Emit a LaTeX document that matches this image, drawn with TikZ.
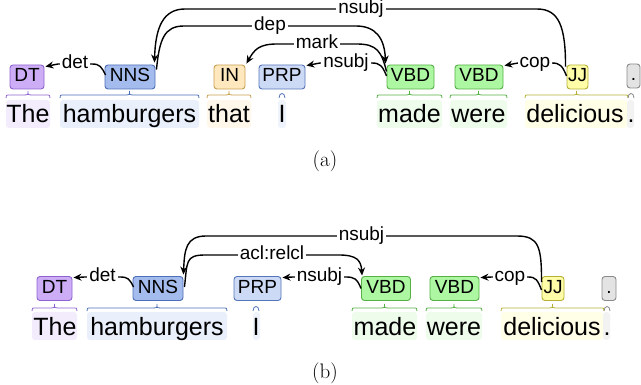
\documentclass[tikz,border=0pt]{standalone}
\usepackage{fontspec}
\usetikzlibrary{arrows.meta}
\newfontfamily\diagfont{Liberation Sans}
\newcommand\wordfont{\diagfont\fontsize{25}{28}\selectfont}
\newcommand\tagfont{\diagfont\fontsize{19}{21}\selectfont}
\newcommand\labfont{\diagfont\fontsize{19}{21}\selectfont}
\definecolor{dtfill}{HTML}{CCADF6}\definecolor{dtline}{HTML}{8E63CF}\definecolor{dtbg}{HTML}{F2ECFD}
\definecolor{nnsfill}{HTML}{A4BCED}\definecolor{nnsline}{HTML}{4D6FB8}\definecolor{nnsbg}{HTML}{E9EFFB}
\definecolor{infill}{HTML}{FFE8BE}\definecolor{inline}{HTML}{C8A050}\definecolor{inbg}{HTML}{FFF7EA}
\definecolor{prpfill}{HTML}{CCDAF6}\definecolor{prpline}{HTML}{5575BA}\definecolor{prpbg}{HTML}{EEF3FC}
\definecolor{vbdfill}{HTML}{ADF6A2}\definecolor{vbdline}{HTML}{55B045}\definecolor{vbdbg}{HTML}{EDFCEB}
\definecolor{jjfill}{HTML}{FFFDA8}\definecolor{jjline}{HTML}{B5B035}\definecolor{jjbg}{HTML}{FFFEE6}
\definecolor{pufill}{HTML}{E3E3E3}\definecolor{puline}{HTML}{8A8A8A}\definecolor{pubg}{HTML}{F2F2F2}
\newcommand\mybrace[4]{% color, x1, x2, ypeak
  \draw[#1, line width=0.8pt] (#2,{#4+7}) .. controls (#2,{#4+4}) .. ({#2+4},{#4+4}) -- ({(#2+#3)/2-3},{#4+4})
    .. controls ({(#2+#3)/2},{#4+4}) .. ({(#2+#3)/2},#4) .. controls ({(#2+#3)/2},{#4+4}) .. ({(#2+#3)/2+3},{#4+4})
    -- ({#3-4},{#4+4}) .. controls (#3,{#4+4}) .. (#3,{#4+7});}
\newcommand\myhook[4]{% color, x1, x2, ytop
  \draw[#1, line width=0.8pt] (#2,{#4+6}) .. controls (#2,#4) and (#3,#4) .. (#3,{#4+6});}
\newcommand\myhl[5]{\fill[#1, rounded corners=3pt] (#2,#4) rectangle (#3,#5);}
\tikzset{
  tagbox/.style={draw, rounded corners=3pt, line width=0.9pt, minimum height=24pt, inner sep=0pt,
    text height=14pt, text depth=4pt, font=\tagfont},
  dtbox/.style={tagbox, fill=dtfill, draw=dtline},
  nnsbox/.style={tagbox, fill=nnsfill, draw=nnsline},
  inbox/.style={tagbox, fill=infill, draw=inline},
  prpbox/.style={tagbox, fill=prpfill, draw=prpline},
  vbdbox/.style={tagbox, fill=vbdfill, draw=vbdline},
  jjbox/.style={tagbox, fill=jjfill, draw=jjline},
  pubox/.style={tagbox, fill=pufill, draw=puline},
  wordtxt/.style={anchor=base, inner sep=0pt, font=\wordfont},
  lab/.style={fill=white, inner xsep=2pt, inner ysep=1pt, text height=10pt, text depth=0pt, font=\labfont},
  arc/.style={line width=1.4pt, -{Stealth[length=8pt,width=7pt]}},
  capt/.style={font=\fontsize{21}{24}\selectfont, inner sep=0pt}
}
\begin{document}
\begin{tikzpicture}[x=1pt,y=-1pt]
\useasboundingbox (0,0) rectangle (641,385);
% ================= panel (a) =================
\myhl{dtbg}{6}{50}{100}{128}
\myhl{nnsbg}{60}{199}{100}{128}
\myhl{inbg}{207}{251}{100}{128}
\myhl{prpbg}{278}{286}{100}{128}
\myhl{vbdbg}{377}{442}{100}{128}
\myhl{vbdbg}{450}{507}{100}{128}
\myhl{jjbg}{525}{627}{100}{128}
\myhl{pubg}{627}{634}{100}{128}
\mybrace{dtline}{6}{50}{91}
\mybrace{nnsline}{60}{199}{91}
\mybrace{inline}{207}{251}{91}
\myhook{prpline}{279}{285}{92}
\mybrace{vbdline}{377}{442}{91}
\mybrace{vbdline}{450}{507}{91}
\mybrace{jjline}{525}{628}{91}
\myhook{puline}{628}{634}{92}
\node[wordtxt] (aw1) at (28,123) {The};
\node[wordtxt] (aw2) at (129.5,123) {hamburgers};
\node[wordtxt] (aw3) at (229,123) {that};
\node[wordtxt] (aw4) at (282,123) {I};
\node[wordtxt] (aw5) at (409.5,123) {made};
\node[wordtxt] (aw6) at (478.5,123) {were};
\node[wordtxt] (aw7) at (575,123) {delicious};
\node[wordtxt] (aw8) at (631,123) {.};
\node[dtbox, minimum width=34pt] (aDT) at (27,77) {DT};
\node[nnsbox, minimum width=50pt] (aNNS) at (130,77) {NNS};
\node[inbox, minimum width=31pt] (aIN) at (229.5,77) {IN};
\node[prpbox, minimum width=46pt] (aPRP) at (282,77) {PRP};
\node[vbdbox, minimum width=47pt] (aVBDa) at (410.5,77) {VBD};
\node[vbdbox, minimum width=48pt] (aVBDb) at (479,77) {VBD};
\node[jjbox, minimum width=21pt] (aJJ) at (577.5,77) {JJ};
\node[pubox, minimum width=13pt] (aPU) at (633.5,76) {.};
% arcs (a)
\draw[arc] ([shift={(-1,2)}]aJJ.north west) .. controls +(0,-40) and +(22,0) .. (537,9)
  -- node[lab] {nsubj} (185,9) .. controls +(-22,0) and +(1,-35) .. ([shift={(-1,-2)}]aNNS.north east);
\draw[arc] ([shift={(1,5)}]aNNS.north east) .. controls +(3,-30) and +(-20,0) .. (184,26)
  -- node[lab] {dep} (356,26) .. controls +(20,0) and +(-1,-25) .. ([shift={(-1,-1)}]aVBDa.north west);
\draw[arc] ([shift={(0,7)}]aVBDa.north west) .. controls +(-5,-20) and +(20,0) .. (357,44)
  -- node[lab] {mark} (277,44) .. controls +(-18,0) and +(8,-14) .. ([shift={(1,-1)}]aIN.north east);
\draw[arc] ([shift={(0,-1)}]aVBDa.west) .. controls +(-4,-10) and +(8,0) .. (372,63)
  -- node[lab] {nsubj} (320,63) -- ([shift={(1,1)}]aPRP.north east);
\draw[arc] ([shift={(0,-1)}]aJJ.west) .. controls +(-4,-10) and +(8,0) .. (552,63)
  -- node[lab] {cop} (518,63) -- ([shift={(1,1)}]aVBDb.north east);
\draw[arc] ([shift={(1,-2)}]aNNS.west) .. controls +(-4,-8) and +(8,0) .. (92,64)
  -- node[lab] {det} (58,64) -- ([shift={(1,2)}]aDT.north east);
\node[capt] (capa) at (325,161) {(a)};
% ================= panel (b) =================
\myhl{dtbg}{32}{77}{312}{340}
\myhl{nnsbg}{87}{227}{312}{340}
\myhl{prpbg}{253}{260}{312}{340}
\myhl{vbdbg}{352}{417}{312}{340}
\myhl{vbdbg}{426}{482}{312}{340}
\myhl{jjbg}{501}{603}{312}{340}
\myhl{pubg}{603}{610}{312}{340}
\mybrace{dtline}{32}{77}{304}
\mybrace{nnsline}{87}{227}{304}
\myhook{prpline}{253}{259}{305}
\mybrace{vbdline}{352}{417}{304}
\mybrace{vbdline}{426}{482}{304}
\mybrace{jjline}{501}{604}{304}
\myhook{puline}{604}{610}{305}
\node[wordtxt] (bw1) at (55,335) {The};
\node[wordtxt] (bw2) at (157,335) {hamburgers};
\node[wordtxt] (bw4) at (256,335) {I};
\node[wordtxt] (bw5) at (385,335) {made};
\node[wordtxt] (bw6) at (454,335) {were};
\node[wordtxt] (bw7) at (552,335) {delicious};
\node[wordtxt] (bw8) at (607,335) {.};
\node[dtbox, minimum width=35pt] (bDT) at (54.5,288.5) {DT};
\node[nnsbox, minimum width=50pt] (bNNS) at (158,288.5) {NNS};
\node[prpbox, minimum width=47pt] (bPRP) at (257.5,288.5) {PRP};
\node[vbdbox, minimum width=49pt] (bVBDa) at (386,288.5) {VBD};
\node[vbdbox, minimum width=49pt] (bVBDb) at (454.5,288.5) {VBD};
\node[jjbox, minimum width=22pt] (bJJ) at (553,288.5) {JJ};
\node[pubox, minimum width=14pt] (bPU) at (609,288.5) {.};
% arcs (b)
\draw[arc] ([shift={(0,6)}]bJJ.north west) .. controls +(0,-35) and +(22,0) .. (517,236)
  -- node[lab] {nsubj} (206,236) .. controls +(-20,0) and +(1,-25) .. ([shift={(0,-1.5)}]bNNS.north east);
\draw[arc] ([shift={(1,-1.5)}]bNNS.east) .. controls +(3,-25) and +(-20,0) .. (205,255)
  -- node[lab] {acl:relcl} (339,255) .. controls +(18,0) and +(-1,-15) .. ([shift={(1,-0.5)}]bVBDa.north west);
\draw[arc] (bVBDa.west) .. controls +(-4,-10) and +(8,0) .. (346,277)
  -- node[lab] {nsubj} (293,277) -- ([shift={(1,1.5)}]bPRP.north east);
\draw[arc] ([shift={(1,-1.5)}]bNNS.west) .. controls +(-4,-8) and +(8,0) .. (120,277)
  -- node[lab] {det} (85,277) -- ([shift={(1,1.5)}]bDT.north east);
\draw[arc] ([shift={(0,1.5)}]bJJ.west) .. controls +(-4,-10) and +(8,0) .. (528,277)
  -- node[lab] {cop} (492,277) -- ([shift={(1,1.5)}]bVBDb.north east);
\node[capt] (capb) at (325,373) {(b)};
\end{tikzpicture}
\end{document}
